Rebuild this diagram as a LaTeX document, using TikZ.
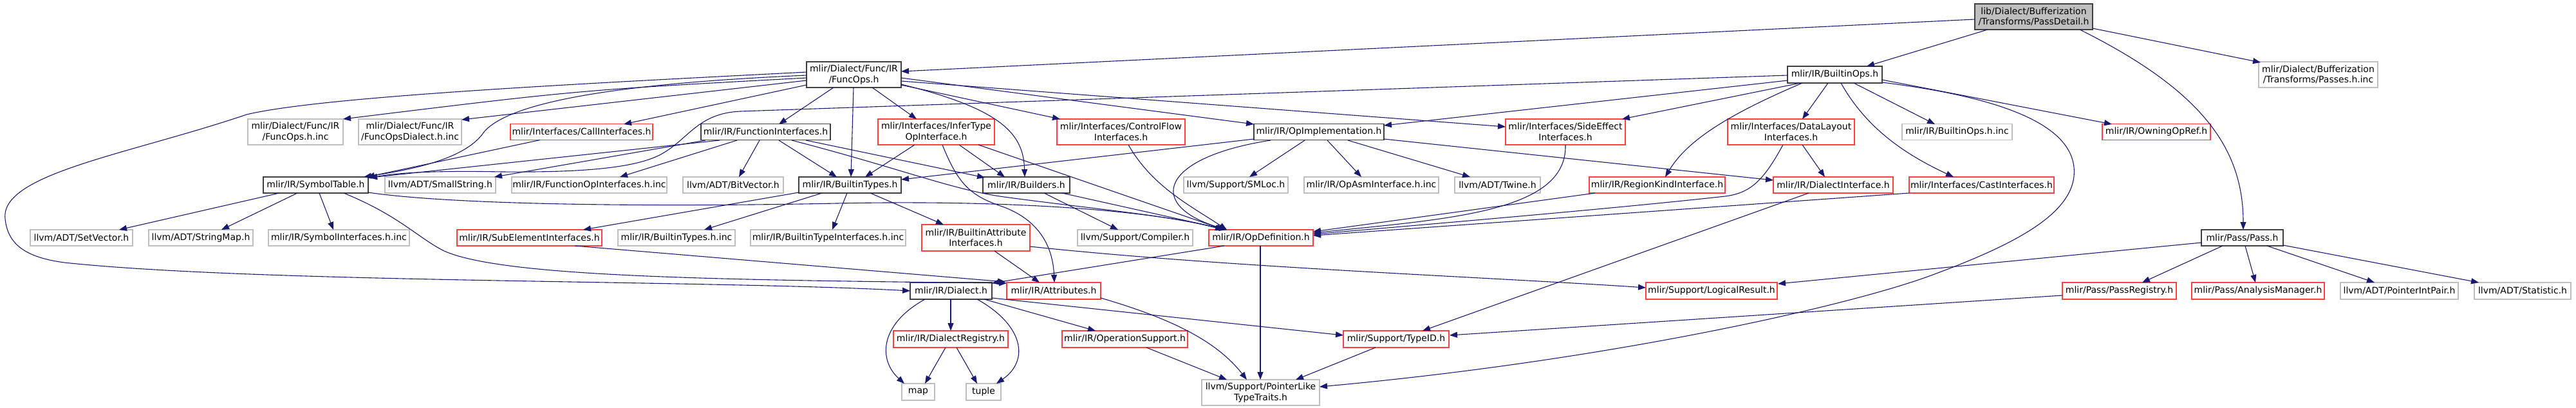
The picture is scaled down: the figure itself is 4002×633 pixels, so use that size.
\documentclass[tikz,border=0pt]{standalone}
\usepackage{fontspec}
\setmainfont{DejaVu Sans}
\usetikzlibrary{arrows.meta}
\definecolor{edgec}{HTML}{191970}
\definecolor{redc}{HTML}{FF4040}
\definecolor{grayc}{HTML}{BFBFBF}
\definecolor{blackc}{HTML}{404040}
\begin{document}
\begin{tikzpicture}[x=1pt,y=-1pt,
  nd/.style={draw, fill=white, inner sep=0pt, outer sep=0pt, align=center, line width=1.2pt, font=\fontsize{14}{16.5}\selectfont, text=black},
  gb/.style={nd, draw=grayc},
  rb/.style={nd, draw=redc},
  kb/.style={nd, draw=blackc},
  wh/.style 2 args={minimum width=#1pt, minimum height=#2pt},
  ed/.style={draw=edgec, line width=1.1pt, -{Triangle[length=12pt,width=9pt]}}]
\useasboundingbox (0,0) rectangle (4002,633);
% row 0/1
\node[kb, fill=grayc, wh={183}{40}] (passdetail) at (3159.5,26) {lib/Dialect/Bufferization\\/Transforms/PassDetail.h};
\node[kb, wh={147}{40}] (funcops) at (1326.5,116) {mlir/Dialect/Func/IR\\/FuncOps.h};
\node[kb, wh={147}{26}] (builtinops) at (2850.5,116) {mlir/IR/BuiltinOps.h};
\node[gb, wh={185}{40}] (passesinc) at (3601.5,116) {mlir/Dialect/Bufferization\\/Transforms/Passes.h.inc};
% row 2
\node[gb, wh={148}{40}] (funcopsinc) at (459,205) {mlir/Dialect/Func/IR\\/FuncOps.h.inc};
\node[gb, wh={160}{40}] (funcopsdialectinc) at (637,205) {mlir/Dialect/Func/IR\\/FuncOpsDialect.h.inc};
\node[rb, wh={221}{25}] (callif) at (903.5,205) {mlir/Interfaces/CallInterfaces.h};
\node[kb, wh={201}{25}] (funcif) at (1189.5,205) {mlir/IR/FunctionInterfaces.h};
\node[rb, wh={181}{40}] (infertype) at (1454.5,205) {mlir/Interfaces/InferType\\OpInterface.h};
\node[rb, wh={199}{40}] (controlflow) at (1741.5,205) {mlir/Interfaces/ControlFlow\\Interfaces.h};
\node[kb, wh={202}{25}] (opimpl) at (2049,205) {mlir/IR/OpImplementation.h};
\node[rb, wh={186}{40}] (sideeffect) at (2432,205) {mlir/Interfaces/SideEffect\\Interfaces.h};
\node[rb, wh={197}{40}] (datalayout) at (2782.5,205) {mlir/Interfaces/DataLayout\\Interfaces.h};
\node[gb, wh={171}{25}] (builtinopsinc) at (3040.5,205) {mlir/IR/BuiltinOps.h.inc};
\node[rb, wh={168}{25}] (owningopref) at (3350,205) {mlir/IR/OwningOpRef.h};
% row 3
\node[kb, wh={163}{25}] (symboltable) at (490.5,287.5) {mlir/IR/SymbolTable.h};
\node[gb, wh={172}{25}] (smallstring) at (684,287.5) {llvm/ADT/SmallString.h};
\node[gb, wh={241}{25}] (funcopifinc) at (915.5,287.5) {mlir/IR/FunctionOpInterfaces.h.inc};
\node[gb, wh={156}{25}] (bitvector) at (1139,287.5) {llvm/ADT/BitVector.h};
\node[kb, wh={159}{25}] (builtintypes) at (1320.5,287.5) {mlir/IR/BuiltinTypes.h};
\node[kb, wh={135}{25}] (builders) at (1594.5,287.5) {mlir/IR/Builders.h};
\node[gb, wh={162}{25}] (smloc) at (1920,287.5) {llvm/Support/SMLoc.h};
\node[gb, wh={209}{25}] (opasminc) at (2130.5,287.5) {mlir/IR/OpAsmInterface.h.inc};
\node[gb, wh={133}{25}] (twine) at (2326.5,287.5) {llvm/ADT/Twine.h};
\node[rb, wh={211}{25}] (regionkind) at (2574.5,287.5) {mlir/IR/RegionKindInterface.h};
\node[rb, wh={186}{25}] (dialectif) at (2848,287.5) {mlir/IR/DialectInterface.h};
\node[rb, wh={225}{25}] (castif) at (3078.5,287.5) {mlir/Interfaces/CastInterfaces.h};
% row 4
\node[gb, wh={159}{25}] (setvector) at (126.5,369.5) {llvm/ADT/SetVector.h};
\node[gb, wh={162}{25}] (stringmap) at (312,369.5) {llvm/ADT/StringMap.h};
\node[gb, wh={219}{25}] (symbolifinc) at (526.5,369.5) {mlir/IR/SymbolInterfaces.h.inc};
\node[rb, wh={225}{25}] (subelement) at (822.5,369.5) {mlir/IR/SubElementInterfaces.h};
\node[gb, wh={182}{25}] (builtintypesinc) at (1051,369.5) {mlir/IR/BuiltinTypes.h.inc};
\node[gb, wh={241}{25}] (builtintypeifinc) at (1286.5,369.5) {mlir/IR/BuiltinTypeInterfaces.h.inc};
\node[rb, wh={168}{41}] (builtinattrif) at (1516,369.5) {mlir/IR/BuiltinAttribute\\Interfaces.h};
\node[gb, wh={179}{25}] (compiler) at (1763.5,369.5) {llvm/Support/Compiler.h};
\node[rb, wh={162}{25}] (opdef) at (1959,369.5) {mlir/IR/OpDefinition.h};
\node[kb, wh={127}{25}] (pass) at (3483.5,369.5) {mlir/Pass/Pass.h};
% row 5
\node[kb, wh={127}{26}] (dialect) at (1477.5,452) {mlir/IR/Dialect.h};
\node[rb, wh={146}{26}] (attributes) at (1637,452) {mlir/IR/Attributes.h};
\node[rb, wh={204}{26}] (logicalresult) at (2659,452) {mlir/Support/LogicalResult.h};
\node[rb, wh={177}{26}] (passregistry) at (3292.5,452) {mlir/Pass/PassRegistry.h};
\node[rb, wh={206}{26}] (analysismanager) at (3508,452) {mlir/Pass/AnalysisManager.h};
\node[gb, wh={183}{26}] (pointerintpair) at (3727.5,452) {llvm/ADT/PointerIntPair.h};
\node[gb, wh={150}{26}] (statistic) at (3919,452) {llvm/ADT/Statistic.h};
% row 6
\node[rb, wh={178}{26}] (dialectregistry) at (1477,527) {mlir/IR/DialectRegistry.h};
\node[rb, wh={195}{26}] (opsupport) at (1747.5,527) {mlir/IR/OperationSupport.h};
\node[rb, wh={164}{26}] (typeid) at (2169,527) {mlir/Support/TypeID.h};
% row 7
\node[gb, wh={51}{26}] (map) at (1426.5,609) {map};
\node[gb, wh={54}{26}] (tuple) at (1528,609) {tuple};
\node[gb, wh={183}{40}] (pointerlike) at (1958.5,610) {llvm/Support/PointerLike\\TypeTraits.h};

% ---- edges ----
% PassDetail
\draw[ed] ([shift={(-91.5,4)}]passdetail.center) -- ([shift={(73.5,-5)}]funcops.center);
\draw[ed] ([shift={(-71.5,20)}]passdetail.center) -- ([shift={(49.5,-13)}]builtinops.center);
\draw[ed] ([shift={(91.5,18)}]passdetail.center) -- ([shift={(-89.5,-19)}]passesinc.center);
\draw[ed] ([shift={(71.5,20)}]passdetail.center) .. controls (3420,140) and (3485,230) .. ([shift={(1.5,-12.5)}]pass.center);
% FuncOps
\draw[ed] ([shift={(-73.5,5)}]funcops.center) .. controls (900,140) .. ([shift={(74,-20)}]funcopsinc.center);
\draw[ed] ([shift={(-73.5,9)}]funcops.center) -- ([shift={(80,-19)}]funcopsdialectinc.center);
\draw[ed] ([shift={(-73.5,16)}]funcops.center) -- ([shift={(65.5,-12)}]callif.center);
\draw[ed] ([shift={(-73.5,1)}]funcops.center) .. controls (950,130) and (790,160) .. (752,205) .. controls (725,245) and (650,262) .. ([shift={(74.5,-12.5)}]symboltable.center);
\draw[ed] ([shift={(-73.5,-4)}]funcops.center) .. controls (900,130) and (500,150) .. (383,178) .. controls (200,240) and (0,270) .. (8,340) .. controls (12,380) and (40,400) .. (100,408) .. controls (400,440) and (1100,435) .. ([shift={(-63.5,0)}]dialect.center);
\draw[ed] ([shift={(-31.5,20)}]funcops.center) -- ([shift={(20.5,-12)}]funcif.center);
\draw[ed] ([shift={(-0.5,20)}]funcops.center) -- ([shift={(1.5,-12.5)}]builtintypes.center);
\draw[ed] ([shift={(28.5,20)}]funcops.center) -- ([shift={(-30.5,-20)}]infertype.center);
\draw[ed] ([shift={(73.5,15)}]funcops.center) .. controls (1560,170) and (1590,210) .. ([shift={(-2.5,-12.5)}]builders.center);
\draw[ed] ([shift={(73.5,16)}]funcops.center) -- ([shift={(-94.5,-20)}]controlflow.center);
\draw[ed] ([shift={(73.5,5)}]funcops.center) -- ([shift={(-101,-12)}]opimpl.center);
\draw[ed] ([shift={(73.5,10)}]funcops.center) -- ([shift={(-93,-8)}]sideeffect.center);
% BuiltinOps
\draw[ed] ([shift={(-73.5,1)}]builtinops.center) -- (1150,173) .. controls (1085,176) and (1070,215) .. (1030,238) .. controls (990,262) and (900,268) .. (780,267) .. controls (680,265) and (620,268) .. ([shift={(83.5,-11)}]symboltable.center);
\draw[ed] ([shift={(-73.5,9)}]builtinops.center) -- ([shift={(101,-10)}]opimpl.center);
\draw[ed] ([shift={(-53.5,13)}]builtinops.center) -- ([shift={(88,-20)}]sideeffect.center);
\draw[ed] ([shift={(-50.5,13)}]builtinops.center) .. controls (2680,180) and (2620,220) .. ([shift={(12.5,-12.5)}]regionkind.center);
\draw[ed] ([shift={(-10.5,13)}]builtinops.center) -- ([shift={(17.5,-20)}]datalayout.center);
\draw[ed] ([shift={(29.5,13)}]builtinops.center) -- ([shift={(-34.5,-12)}]builtinopsinc.center);
\draw[ed] ([shift={(9.5,13)}]builtinops.center) .. controls (2900,200) and (2960,240) .. ([shift={(-43.5,-12.5)}]castif.center);
\draw[ed] ([shift={(73.5,8)}]builtinops.center) -- ([shift={(-69,-12)}]owningopref.center);
\draw[ed] ([shift={(73.5,12)}]builtinops.center) .. controls (3100,150) and (3215,190) .. (3222,260) .. controls (3229,330) and (3130,380) .. (3000,428) .. controls (2870,476) and (2500,560) .. ([shift={(91.5,-9)}]pointerlike.center);
% FunctionInterfaces
\draw[ed] ([shift={(-71.5,13)}]funcif.center) -- ([shift={(83.5,-11.5)}]symboltable.center);
\draw[ed] ([shift={(-93.5,13)}]funcif.center) -- ([shift={(84,-12.5)}]smallstring.center);
\draw[ed] ([shift={(-44.5,13)}]funcif.center) -- ([shift={(47.5,-12.5)}]funcopifinc.center);
\draw[ed] ([shift={(-9.5,13)}]funcif.center) -- ([shift={(9,-12.5)}]bitvector.center);
\draw[ed] ([shift={(20.5,13)}]funcif.center) -- ([shift={(-20.5,-12.5)}]builtintypes.center);
\draw[ed] ([shift={(40.5,13)}]funcif.center) .. controls (1400,262) and (1480,295) .. (1560,306) .. controls (1700,325) and (1820,335) .. ([shift={(-59,-12.5)}]opdef.center);
\draw[ed] ([shift={(62.5,13)}]funcif.center) -- ([shift={(-64.5,-11.5)}]builders.center);
% CallInterfaces
\draw[ed] ([shift={(-64.5,12.5)}]callif.center) -- ([shift={(79.5,-12.5)}]symboltable.center);
% SymbolTable
\draw[ed] ([shift={(-56.5,12.5)}]symboltable.center) -- ([shift={(58.5,-12.5)}]setvector.center);
\draw[ed] ([shift={(-28.5,12.5)}]symboltable.center) -- ([shift={(32,-12.5)}]stringmap.center);
\draw[ed] ([shift={(5.5,12.5)}]symboltable.center) -- ([shift={(-8.5,-12.5)}]symbolifinc.center);
\draw[ed] ([shift={(43.5,12.5)}]symboltable.center) .. controls (620,335) and (650,370) .. (690,390) .. controls (780,430) and (1100,435) .. ([shift={(-73,-12)}]attributes.center);
\draw[ed] ([shift={(81.5,11.5)}]symboltable.center) .. controls (700,318) and (1000,322) .. (1300,316) .. controls (1600,310) and (1800,330) .. ([shift={(-57,-12.5)}]opdef.center);
% BuiltinTypes
\draw[ed] ([shift={(-79.5,11.5)}]builtintypes.center) -- ([shift={(83.5,-12.5)}]subelement.center);
\draw[ed] ([shift={(-43.5,12.5)}]builtintypes.center) -- ([shift={(43,-12.5)}]builtintypesinc.center);
\draw[ed] ([shift={(-4.5,12.5)}]builtintypes.center) -- ([shift={(6.5,-12.5)}]builtintypeifinc.center);
\draw[ed] ([shift={(31.5,12.5)}]builtintypes.center) -- ([shift={(-50,-20.5)}]builtinattrif.center);
% SubElementInterfaces
\draw[ed] ([shift={(70.5,12.5)}]subelement.center) -- ([shift={(-75,-14)}]attributes.center);
% InferTypeOpInterface
\draw[ed] ([shift={(-33.5,20)}]infertype.center) -- ([shift={(23.5,-12.5)}]builtintypes.center);
\draw[ed] ([shift={(35.5,20)}]infertype.center) -- ([shift={(-33.5,-12.5)}]builders.center);
\draw[ed] ([shift={(65.5,20)}]infertype.center) -- ([shift={(-57,-12.5)}]opdef.center);
\draw[ed] ([shift={(9.5,20)}]infertype.center) .. controls (1490,290) and (1510,305) .. (1560,322) .. controls (1620,345) and (1636,390) .. ([shift={(1,-13)}]attributes.center);
% ControlFlow
\draw[ed] ([shift={(11.5,20)}]controlflow.center) .. controls (1790,290) and (1850,320) .. ([shift={(-53,-12.5)}]opdef.center);
% Builders
\draw[ed] ([shift={(27.5,12.5)}]builders.center) -- ([shift={(-26.5,-12.5)}]compiler.center);
\draw[ed] ([shift={(55.5,12.5)}]builders.center) -- ([shift={(-53,-12.5)}]opdef.center);
% OpImplementation
\draw[ed] ([shift={(-101,11)}]opimpl.center) -- ([shift={(79.5,-8.5)}]builtintypes.center);
\draw[ed] ([shift={(-75,13)}]opimpl.center) .. controls (1800,245) and (1780,320) .. ([shift={(-53,-12.5)}]opdef.center);
\draw[ed] ([shift={(-22,13)}]opimpl.center) -- ([shift={(21,-12.5)}]smloc.center);
\draw[ed] ([shift={(13,13)}]opimpl.center) -- ([shift={(-15.5,-12.5)}]opasminc.center);
\draw[ed] ([shift={(45,13)}]opimpl.center) -- ([shift={(-42.5,-12.5)}]twine.center);
\draw[ed] ([shift={(101,11)}]opimpl.center) -- ([shift={(-93,-7.5)}]dialectif.center);
% interfaces to OpDefinition
\draw[ed] ([shift={(0,20)}]sideeffect.center) .. controls (2435,330) and (2250,340) .. ([shift={(81,-7.5)}]opdef.center);
\draw[ed] ([shift={(-96.5,12.5)}]regionkind.center) -- ([shift={(81,-9.5)}]opdef.center);
\draw[ed] ([shift={(-12.5,20)}]datalayout.center) .. controls (2740,280) and (2720,300) .. (2680,305) .. controls (2500,325) and (2200,350) .. ([shift={(81,-5.5)}]opdef.center);
\draw[ed] ([shift={(17.5,20)}]datalayout.center) -- ([shift={(-13,-12.5)}]dialectif.center);
\draw[ed] ([shift={(-112.5,12.5)}]castif.center) -- ([shift={(81,-3.5)}]opdef.center);
\draw[ed] ([shift={(-38,12.5)}]dialectif.center) -- ([shift={(41,-13)}]typeid.center);
% OpDefinition
\draw[ed] ([shift={(-57,12.5)}]opdef.center) -- ([shift={(63.5,-12)}]dialect.center);
\draw[ed] ([shift={(-1,12.5)}]opdef.center) -- ([shift={(-0.5,-20)}]pointerlike.center);
% BuiltinAttributeInterfaces
\draw[ed] ([shift={(29,20.5)}]builtinattrif.center) -- ([shift={(-22,-13)}]attributes.center);
\draw[ed] ([shift={(84,13.5)}]builtinattrif.center) .. controls (1900,415) and (2300,430) .. ([shift={(-102,-5)}]logicalresult.center);
% Dialect
\draw[ed] ([shift={(-40.5,13)}]dialect.center) .. controls (1365,505) and (1365,560) .. ([shift={(-21.5,-13)}]map.center);
\draw[ed] ([shift={(-0.5,13)}]dialect.center) -- ([shift={(0,-13)}]dialectregistry.center);
\draw[ed] ([shift={(40.5,13)}]dialect.center) .. controls (1590,505) and (1600,560) .. ([shift={(20,-13)}]tuple.center);
\draw[ed] ([shift={(51.5,13)}]dialect.center) -- ([shift={(-45.5,-13)}]opsupport.center);
\draw[ed] ([shift={(63.5,11)}]dialect.center) -- ([shift={(-82,-6)}]typeid.center);
% DialectRegistry
\draw[ed] ([shift={(-8,13)}]dialectregistry.center) -- ([shift={(10.5,-13)}]map.center);
\draw[ed] ([shift={(9,13)}]dialectregistry.center) -- ([shift={(-10,-13)}]tuple.center);
% to PointerLikeTypeTraits
\draw[ed] ([shift={(33.5,13)}]opsupport.center) -- ([shift={(-52.5,-20)}]pointerlike.center);
\draw[ed] ([shift={(73,11)}]attributes.center) .. controls (1820,495) and (1890,530) .. ([shift={(-21.5,-20)}]pointerlike.center);
\draw[ed] ([shift={(-32,13)}]typeid.center) -- ([shift={(54.5,-20)}]pointerlike.center);
% Pass
\draw[ed] ([shift={(-30.5,12.5)}]pass.center) -- ([shift={(35.5,-13)}]passregistry.center);
\draw[ed] ([shift={(4.5,12.5)}]pass.center) -- ([shift={(-4,-13)}]analysismanager.center);
\draw[ed] ([shift={(38.5,12.5)}]pass.center) -- ([shift={(-38.5,-13)}]pointerintpair.center);
\draw[ed] ([shift={(63.5,11.5)}]pass.center) -- ([shift={(-68,-13)}]statistic.center);
\draw[ed] ([shift={(-63.5,7.5)}]pass.center) -- ([shift={(103,-11)}]logicalresult.center);
\draw[ed] ([shift={(-88.5,7)}]passregistry.center) -- ([shift={(83,-6)}]typeid.center);
\end{tikzpicture}
\end{document}
